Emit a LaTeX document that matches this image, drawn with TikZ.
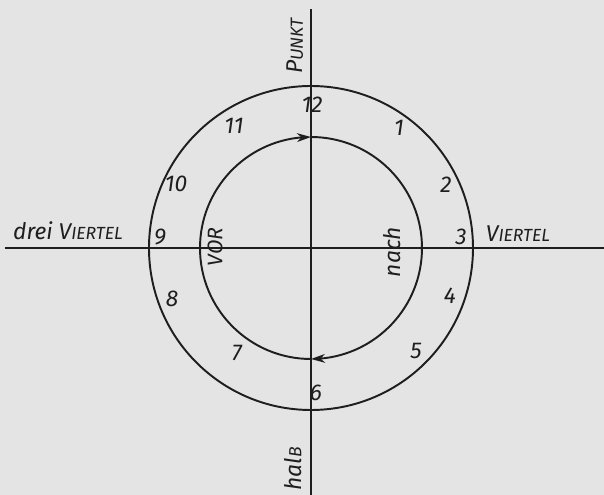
\documentclass[tikz,border=0pt]{standalone}
\usepackage{fontspec}
\setmainfont{Fira Sans}
\usepackage{xcolor}
\usetikzlibrary{arrows.meta,bending}
\definecolor{paper}{RGB}{228,228,228}
\definecolor{ink}{RGB}{30,30,30}
\tikzset{lab/.style={font=\itshape\fontsize{13}{15}\selectfont,text=ink,inner sep=1pt},
num/.style={font=\itshape\fontsize{13}{15}\selectfont,text=ink,inner sep=1pt},
ring/.style={ink,line width=1.1pt}}
\newcommand{\sk}[1]{{\fontsize{10}{12}\selectfont #1}}

\begin{document}
\begin{tikzpicture}
\fill[paper](-6.22,-4.94)rectangle(5.86,4.96);
\useasboundingbox(-6.22,-4.94)rectangle(5.86,4.96);
\draw[ink,semithick](-6.12,0)--(5.86,0);
\draw[ink,semithick](0,4.78)--(0,-4.94);
\draw[ring](0,0)circle[radius=3.24cm];
\draw[ring,-{Stealth[length=8pt,width=5pt]}](0,-2.22)arc[start angle=270,end angle=90,radius=2.22cm];
\draw[ring,-{Stealth[length=8pt,width=5pt]}](0,2.22)arc[start angle=90,end angle=-90,radius=2.22cm];
\foreach \n/\x/\y in {1/1.76/2.40,2/2.70/1.26,3/3.00/0.22,4/2.78/-0.96,5/2.10/-2.06,6/0.10/-2.90,
7/-1.48/-2.10,8/-2.78/-1.02,9/-3.02/0.22,10/-2.70/1.28,11/-1.54/2.44,12/0.02/2.86}
\node[num](h\n)at(\x,\y){\n};
\node[lab,rotate=90](punkt)at(-0.32,4.04){P\sk{UNKT}};
\node[lab](viertel)at(4.14,0.28){V\sk{IERTEL}};
\node[lab](dreiviertel)at(-4.86,0.34){drei V\sk{IERTEL}};
\node[lab,rotate=90](vor)at(-1.92,0.02){\fontsize{12}{14}\selectfont VOR};
\node[lab,rotate=90](nach)at(1.62,-0.08){nach};
\node[lab,rotate=90](halb)at(-0.36,-4.42){hal\sk{B}};
\end{tikzpicture}
\end{document}
